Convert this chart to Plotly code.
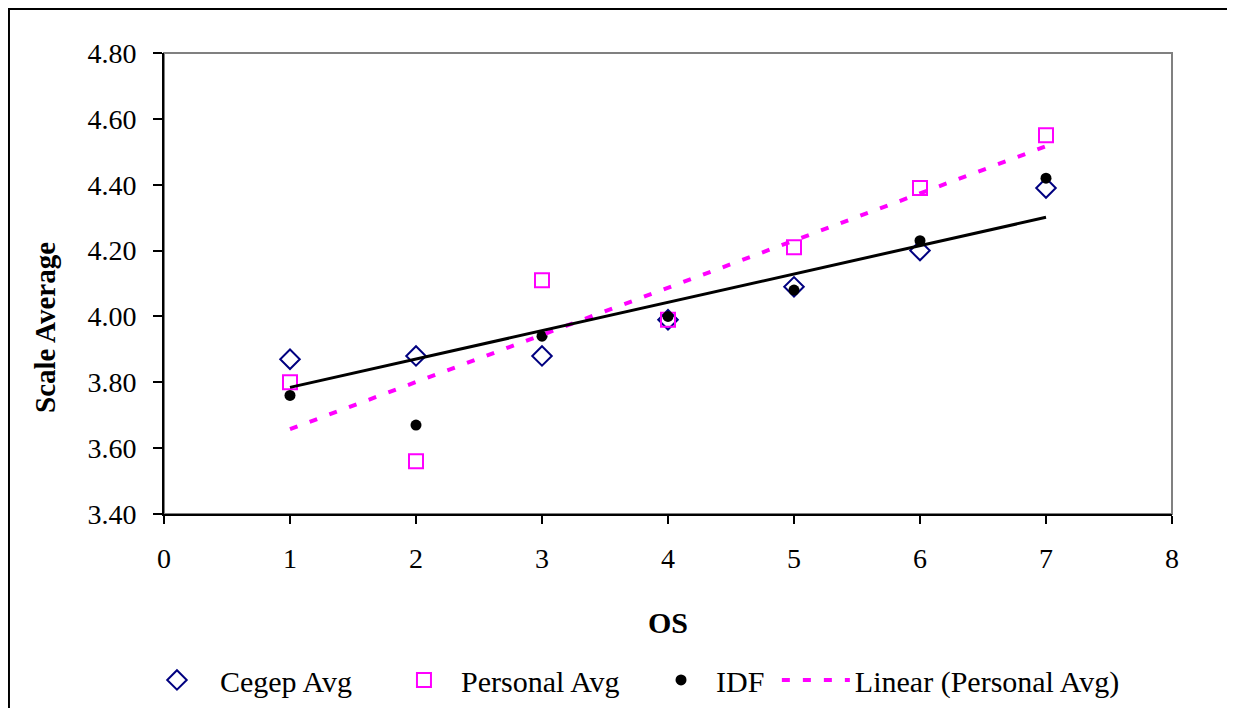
import numpy as np
import plotly.graph_objects as go

os_levels = [1, 2, 3, 4, 5, 6, 7]
cegep_avg = [3.87, 3.88, 3.88, 3.99, 4.09, 4.20, 4.39]
personal_avg = [3.80, 3.56, 4.11, 3.99, 4.21, 4.39, 4.55]
idf = [3.76, 3.67, 3.94, 4.00, 4.08, 4.23, 4.42]

x_ticks = [0, 1, 2, 3, 4, 5, 6, 7, 8]
y_ticks = [3.40, 3.60, 3.80, 4.00, 4.20, 4.40, 4.60, 4.80]

FONT = "Liberation Serif"

def linear_fit(xs, ys):
    k, b = np.polyfit(np.array(xs, float), np.array(ys, float), 1)
    xe = [min(xs), max(xs)]
    return xe, [k * v + b for v in xe]

fig = go.Figure()
fig.add_trace(go.Scatter(
    x=os_levels, y=cegep_avg, mode="markers", name="Cegep Avg", legend="legend",
    marker=dict(symbol="diamond-open", size=15, color="#000080", line=dict(width=2, color="#000080"))))
fig.add_trace(go.Scatter(
    x=os_levels, y=personal_avg, mode="markers", name="Personal Avg", legend="legend2",
    marker=dict(symbol="square-open", size=14, color="#FF00FF", line=dict(width=2, color="#FF00FF"))))
fig.add_trace(go.Scatter(
    x=os_levels, y=idf, mode="markers", name="IDF", legend="legend3",
    marker=dict(symbol="circle", size=11, color="#000000")))
px_, py_ = linear_fit(os_levels, personal_avg)
fig.add_trace(go.Scatter(
    x=px_, y=py_, mode="lines", name="Linear (Personal Avg)", legend="legend4",
    line=dict(color="#FF00FF", width=4, dash="8px,13px")))
cx_, cy_ = linear_fit(os_levels, cegep_avg)
fig.add_trace(go.Scatter(
    x=cx_, y=cy_, mode="lines", name="Linear (Cegep Avg)", showlegend=False,
    line=dict(color="#000000", width=3)))

leg_font = dict(family=FONT, size=30, color="black")
def leg(xp, iw):
    return dict(orientation="h", x=xp, y=-0.360, xanchor="left", yanchor="middle",
                font=leg_font, bgcolor="rgba(0,0,0,0)", itemwidth=iw)

fig.update_layout(
    width=1227, height=700,
    margin=dict(l=156, r=63, t=45, b=194, autoexpand=False),
    paper_bgcolor="white", plot_bgcolor="white",
    font=dict(family=FONT, size=28, color="black"),
    showlegend=True,
    legend=leg(-0.0298, 76), legend2=leg(0.2212, 64), legend3=leg(0.4782, 60), legend4=leg(0.608, 68),
    xaxis=dict(range=[0, 8], tickvals=x_ticks, ticktext=[str(v) for v in x_ticks],
               showgrid=False, zeroline=False, showline=True, linecolor="black", linewidth=2,
               ticks="outside", ticklen=8, tickwidth=2, tickcolor="black",
               ticklabelstandoff=10, automargin=False,
               title=dict(text="<b>OS</b>", font=dict(family=FONT, size=30), standoff=39)),
    yaxis=dict(range=[3.4, 4.8], tickvals=y_ticks, ticktext=["%.2f" % v for v in y_ticks],
               showgrid=False, zeroline=False, showline=True, linecolor="black", linewidth=2,
               ticks="outside", ticklen=9, tickwidth=2, tickcolor="black",
               ticklabelstandoff=11, automargin=False),
)

# y-axis title (placed as in the original, below the plot's vertical centre)
fig.add_annotation(text="<b>Scale Average</b>", xref="paper", yref="paper",
                   x=-0.1181, y=0.4056, xanchor="center", yanchor="middle",
                   textangle=-90, showarrow=False, font=dict(family=FONT, size=29, color="black"))

# plot area border (gray) and outer chart frame
fig.add_shape(type="rect", xref="x domain", yref="y domain", x0=0, x1=1, y0=0, y1=1,
              line=dict(color="#808080", width=2), layer="below")
fig.add_shape(type="rect", xref="paper", yref="paper", x0=-0.1538, x1=1.0595, y0=-0.45, y1=1.0954,
              line=dict(color="black", width=2), layer="below")

fig.write_html("out.html")
